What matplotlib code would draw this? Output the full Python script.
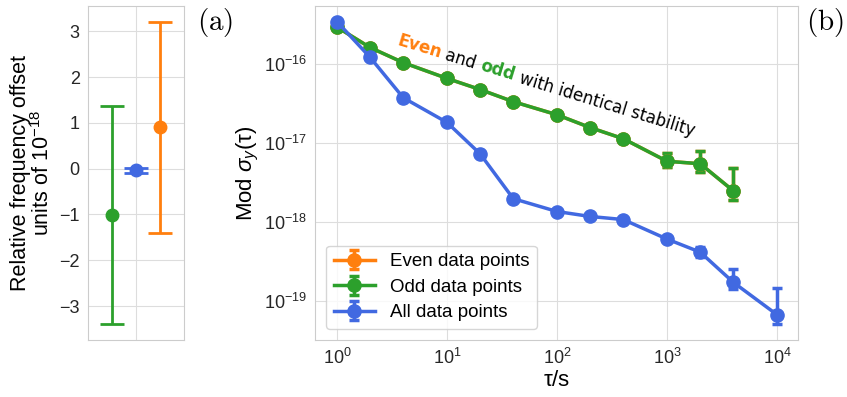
import numpy as np
import matplotlib.pyplot as plt

plt.rcParams['font.family'] = ['Liberation Sans', 'DejaVu Sans']
plt.rcParams['mathtext.fontset'] = 'custom'
plt.rcParams['mathtext.rm'] = 'Liberation Sans'
plt.rcParams['mathtext.it'] = 'Liberation Sans:italic'
plt.rcParams['mathtext.bf'] = 'Liberation Sans:bold'
plt.rcParams['axes.edgecolor'] = '#cccccc'
plt.rcParams['grid.color'] = '#dddddd'
plt.rcParams['xtick.color'] = '#262626'
plt.rcParams['ytick.color'] = '#262626'

# panel (a): offsets in units of 1e-18
off_pos = [-1, 0, 1]
off_val = [-1.02, -0.04, 0.90]
off_err = [2.38, 0.06, 2.30]
off_col = ['#2ca02c', 'royalblue', '#ff7f0e']

# panel (b): Mod sigma_y
tau_all = [1, 2, 4, 10, 20, 40, 100, 200, 400, 1000, 2000, 4000, 10000]
sig_all = [3.4e-16, 1.2e-16, 3.7e-17, 1.8e-17, 7.2e-18, 1.95e-18, 1.34e-18,
           1.16e-18, 1.06e-18, 6.0e-19, 4.1e-19, 1.7e-19, 6.6e-20]
lo_all = [5e-18, 2e-18, 6e-19, 3e-19, 1.2e-19, 3e-20, 3e-20,
          3e-20, 3e-20, 3e-20, 5e-20, 3.2e-20, 1.6e-20]
hi_all = [5e-18, 2e-18, 6e-19, 3e-19, 1.2e-19, 3e-20, 3e-20,
          3e-20, 3e-20, 3e-20, 6e-20, 8e-20, 7.9e-20]

tau_eo = [1, 2, 4, 10, 20, 40, 100, 200, 400, 1000, 2000, 4000]
sig_even = [2.9e-16, 1.6e-16, 1.03e-16, 6.5e-17, 4.7e-17, 3.3e-17, 2.25e-17,
            1.55e-17, 1.12e-17, 5.8e-18, 5.4e-18, 2.45e-18]
sig_odd = [2.9e-16, 1.6e-16, 1.03e-16, 6.5e-17, 4.7e-17, 3.3e-17, 2.25e-17,
           1.55e-17, 1.12e-17, 5.8e-18, 5.4e-18, 2.45e-18]
lo_eo = [4e-18, 2e-18, 1.5e-18, 1e-18, 8e-19, 6e-19, 5e-19,
         4e-19, 4e-19, 9e-19, 1.2e-18, 6e-19]
hi_eo = [4e-18, 2e-18, 1.5e-18, 1e-18, 8e-19, 6e-19, 5e-19,
         4e-19, 5e-19, 1.5e-18, 2.5e-18, 2.35e-18]

fig = plt.figure(figsize=(8.47, 3.97), dpi=100)
W, H = 847, 397
ax1 = fig.add_axes([88/W, 57/H, 96/W, 334/H])
ax2 = fig.add_axes([315/W, 57/H, 483/W, 334/H])

# ---- (a)
for p, v, e, c in zip(off_pos, off_val, off_err, off_col):
    ax1.errorbar(p, v, yerr=e, fmt='o', color=c, ms=9, lw=2, capsize=8.5, capthick=2)
ax1.set_xlim(-2, 2)
ax1.set_ylim(-3.74, 3.55)
ax1.set_xticks([0])
ax1.set_xticklabels([''])
ax1.set_yticks([-3, -2, -1, 0, 1, 2, 3])
ax1.grid(True)
ax1.set_axisbelow(True)
ax1.tick_params(length=0, labelsize=13, pad=6)
ax1.set_ylabel('Relative frequency offset\nunits of $10^{-18}$', fontsize=15.5,
               linespacing=1.0, labelpad=4)
fig.text(197/W, 1 - 30/H, r'$\mathrm{(a)}$', fontsize=21, math_fontfamily='cm')

# ---- (b)
kw = dict(fmt='-o', ms=9.5, lw=2.5, capsize=3.5, capthick=2.5, elinewidth=2.5)
ax2.errorbar(tau_eo, sig_even, yerr=[lo_eo, hi_eo], color='#ff7f0e', label='Even data points', **kw)
ax2.errorbar(tau_eo, sig_odd, yerr=[lo_eo, hi_eo], color='#2ca02c', label='Odd data points', **kw)
ax2.errorbar(tau_all, sig_all, yerr=[lo_all, hi_all], color='royalblue', label='All data points', **kw)
ax2.set_xscale('log')
ax2.set_yscale('log')
ax2.set_xlim(10**-0.2, 10**4.19)
ax2.set_ylim(10**-19.5, 10**-15.27)
ax2.set_xticks([1, 10, 100, 1000, 10000])
ax2.set_yticks([1e-19, 1e-18, 1e-17, 1e-16])
ax2.minorticks_off()
ax2.grid(True)
ax2.set_axisbelow(True)
ax2.tick_params(length=0, labelsize=13, pad=6)
ax2.set_xlabel(r'$\mathrm{\tau}$/s', fontsize=16, labelpad=1)
ax2.set_ylabel(r'Mod $\sigma_y(\mathrm{\tau})$', fontsize=16, labelpad=2)
ax2.legend(loc='lower left', fontsize=13.5, frameon=True, handlelength=2.2,
           borderaxespad=0.6, labelspacing=0.45)
fig.text(806/W, 1 - 30/H, r'$\mathrm{(b)}$', fontsize=21, math_fontfamily='cm')

# multicolour rotated annotation
pieces = [('Even', '#ff7f0e', 'bold'), (' and ', 'black', 'normal'),
          ('odd', '#2ca02c', 'bold'), (' with identical stability', 'black', 'normal')]
ang = -17.0
x0, y0 = 396, H - 45
renderer = fig.canvas.get_renderer()
dx, dy = np.cos(np.radians(ang)), np.sin(np.radians(ang))
for s, c, w in pieces:
    t = fig.text(x0/W, y0/H, s, color=c, fontweight=w, fontsize=12,
                 family='DejaVu Sans', ha='left', va='baseline')
    wid = t.get_window_extent(renderer).width
    t.set_rotation(ang)
    t.set_rotation_mode('anchor')
    x0 += wid*dx
    y0 += wid*dy

fig.savefig('out.png', dpi=100)
